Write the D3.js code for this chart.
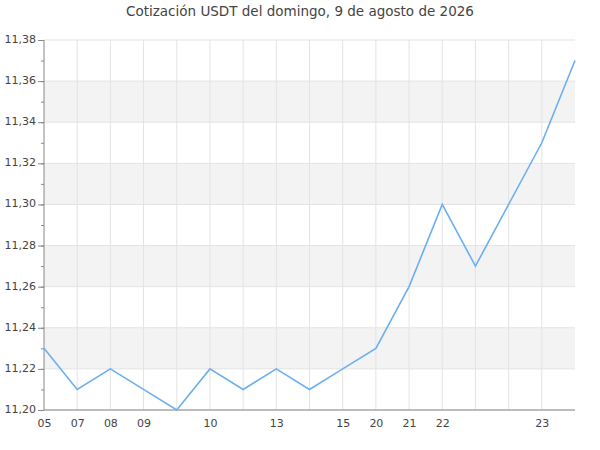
<!DOCTYPE html>
<html>
<head>
<meta charset="utf-8">
<script src="https://cdn.jsdelivr.net/npm/d3@7"></script>
<style>
  body { margin: 0; background: #fff; }
  text { font-family: "DejaVu Sans", sans-serif; }
</style>
</head>
<body>
<div id="chart"></div>
<script>
// hour labels under each point (blank = no label)
var hourLabels = ["05", "07", "08", "09", "", "10", "", "13", "", "15", "20", "21", "22", "", "", "23", ""];
var prices = [11.23, 11.21, 11.22, 11.21, 11.20, 11.22, 11.21, 11.22, 11.21, 11.22, 11.23, 11.26, 11.30, 11.27, 11.30, 11.33, 11.37];
var yTicks = [11.20, 11.22, 11.24, 11.26, 11.28, 11.30, 11.32, 11.34, 11.36, 11.38];
var title = "Cotización USDT del domingo, 9 de agosto de 2026";

var svgWidth = 600;
var svgHeight = 450;
var margin = { top: 40, right: 25, bottom: 40, left: 44 };
var width = svgWidth - margin.left - margin.right;
var height = svgHeight - margin.top - margin.bottom;

var svg = d3.select("#chart")
  .append("svg")
  .attr("width", svgWidth)
  .attr("height", svgHeight);

svg.append("text")
  .attr("x", svgWidth / 2)
  .attr("y", 16)
  .attr("text-anchor", "middle")
  .attr("font-size", 13.5)
  .attr("fill", "#444")
  .text(title);

var chartGroup = svg.append("g")
  .attr("transform", `translate(${margin.left}, ${margin.top})`);

var idx = d3.range(prices.length);
var xScale = d3.scalePoint()
  .domain(idx)
  .range([0, width]);

var yScale = d3.scaleLinear()
  .domain([11.20, 11.38])
  .range([height, 0]);

var fmt = v => d3.format(".2f")(v).replace(".", ",");

// alternating bands
var bands = [];
for (var i = 1; i < yTicks.length - 1; i += 2) bands.push([yTicks[i], yTicks[i + 1]]);
chartGroup.selectAll("rect.band")
  .data(bands)
  .enter()
  .append("rect")
  .attr("x", 0)
  .attr("width", width)
  .attr("y", d => yScale(d[1]))
  .attr("height", d => yScale(d[0]) - yScale(d[1]))
  .attr("fill", "#f3f3f3");

// horizontal grid
chartGroup.selectAll("line.hgrid")
  .data(yTicks)
  .enter()
  .append("line")
  .attr("x1", 0)
  .attr("x2", width)
  .attr("y1", d => yScale(d))
  .attr("y2", d => yScale(d))
  .attr("stroke", "#e3e3e3");

// vertical grid
chartGroup.selectAll("line.vgrid")
  .data(idx.slice(1, -1))
  .enter()
  .append("line")
  .attr("x1", d => xScale(d))
  .attr("x2", d => xScale(d))
  .attr("y1", 0)
  .attr("y2", height)
  .attr("stroke", "#e3e3e3");

// y axis
var minorTicks = d3.range(0, 19).map(i => 11.20 + i * 0.01);
var yAxis = chartGroup.append("g")
  .call(d3.axisLeft(yScale).tickValues(minorTicks).tickSize(3).tickFormat(""));
yAxis.select(".domain").remove();
yAxis.selectAll("line").attr("stroke", "#888");
var yAxisMajor = chartGroup.append("g")
  .call(d3.axisLeft(yScale).tickValues(yTicks).tickSize(6).tickFormat(fmt).tickPadding(2));
yAxisMajor.select(".domain").attr("stroke", "#888").attr("d", `M0,0V${height}`);
yAxisMajor.selectAll("line").attr("stroke", "#888");
yAxisMajor.selectAll("text")
  .attr("font-family", "DejaVu Sans, sans-serif")
  .attr("font-size", 11)
  .attr("fill", "#444")
  .attr("dy", "0.32em")
  .attr("y", -1);

// x axis
var xAxis = chartGroup.append("g")
  .attr("transform", `translate(0, ${height})`)
  .call(d3.axisBottom(xScale).tickSize(0).tickPadding(9).tickFormat(d => hourLabels[d]));
xAxis.select(".domain").attr("stroke", "#888").attr("d", `M0,0H${width}`);
xAxis.selectAll("text")
  .attr("font-family", "DejaVu Sans, sans-serif")
  .attr("font-size", 11)
  .attr("fill", "#444");

// price line
var line = d3.line()
  .x((d, i) => xScale(i))
  .y(d => yScale(d));

chartGroup.append("path")
  .datum(prices)
  .attr("fill", "none")
  .attr("stroke", "#6aaff2")
  .attr("stroke-width", 1.6)
  .attr("d", line);
</script>
</body>
</html>
